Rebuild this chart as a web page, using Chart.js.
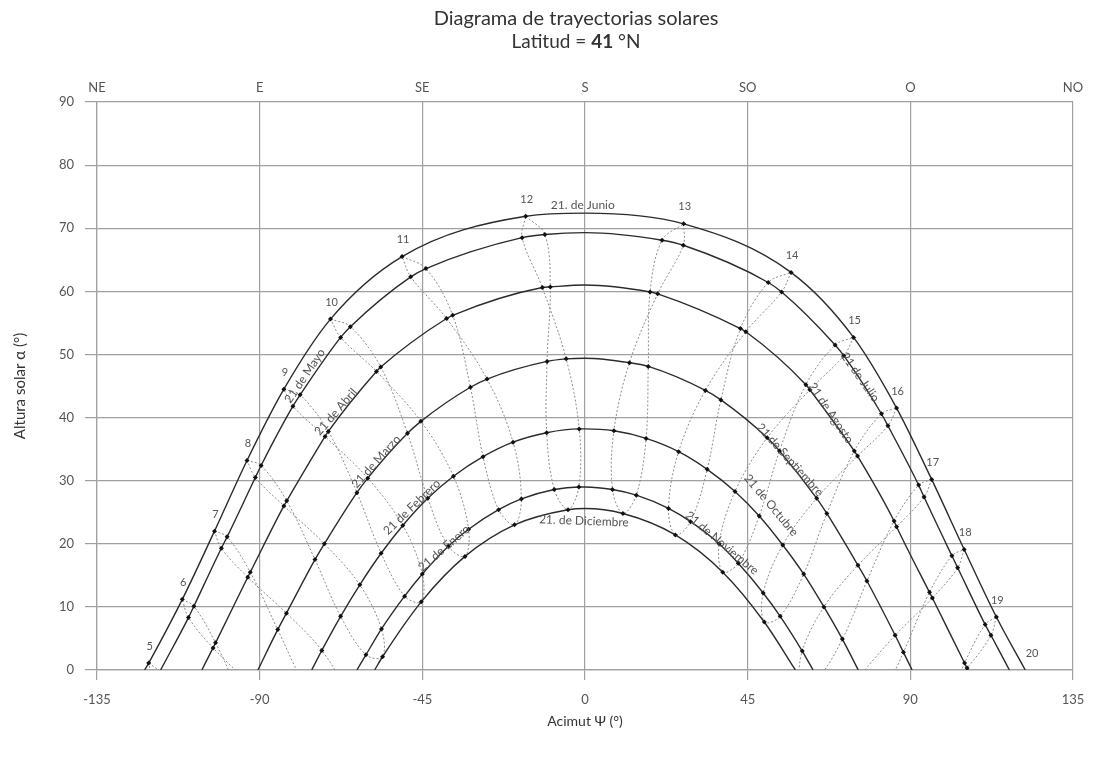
<!DOCTYPE html>
<html>
<head>
<meta charset="utf-8">
<script src="https://cdn.jsdelivr.net/npm/chart.js@4.4.0/dist/chart.umd.min.js"></script>
<style>
  html, body { margin: 0; padding: 0; background: #fff; }
</style>
</head>
<body>
<canvas id="sunChart" width="1097" height="758"></canvas>
<script>
// clock hours, one entry per column of the month tables below
const hours = [5, 6, 7, 8, 9, 10, 11, 12, 13, 14, 15, 16, 17, 18, 19, 20];

// [azimut, altura] of the sun on the 21st of each month, per clock hour
const jun = [[-120.7, 1.1], [-111.4, 11.2], [-102.5, 22.0], [-93.5, 33.2], [-83.3, 44.5], [-70.4, 55.6], [-50.6, 65.5], [-16.4, 71.9], [27.3, 70.7], [57.0, 63.0], [74.3, 52.7], [86.2, 41.5], [95.9, 30.2], [104.9, 19.1], [113.8, 8.4], [123.4, -1.5]];
const may = [[-117.7, -0.3], [-108.2, 10.1], [-99.0, 21.1], [-89.6, 32.4], [-78.8, 43.6], [-64.9, 54.4], [-44.0, 63.6], [-11.1, 69.0], [27.2, 67.3], [54.4, 59.9], [71.6, 49.8], [83.8, 38.7], [93.8, 27.4], [103.1, 16.2], [112.3, 5.5], [122.1, -4.6]];
const jul = [[-119.3, -2.0], [-109.7, 8.3], [-100.6, 19.3], [-91.2, 30.5], [-80.8, 41.8], [-67.6, 52.7], [-48.2, 62.3], [-17.4, 68.5], [21.3, 68.1], [50.7, 61.4], [69.2, 51.5], [82.0, 40.6], [92.3, 29.3], [101.5, 18.1], [110.7, 7.2], [120.4, -3.0]];
const apr = [[-112.1, -6.5], [-102.2, 4.3], [-92.6, 15.5], [-82.5, 26.8], [-71.0, 37.8], [-56.5, 48.0], [-36.6, 56.2], [-9.6, 60.7], [20.1, 59.6], [44.5, 53.6], [62.2, 44.4], [75.4, 33.9], [86.2, 22.7], [96.1, 11.4], [105.7, 0.3], [115.9, -10.3]];
const aug = [[-112.9, -7.3], [-102.9, 3.5], [-93.3, 14.7], [-83.3, 26.0], [-71.9, 37.0], [-57.7, 47.3], [-38.3, 55.7], [-11.8, 60.6], [18.0, 59.9], [43.0, 54.1], [61.1, 45.2], [74.5, 34.7], [85.5, 23.6], [95.3, 12.3], [105.0, 1.1], [115.1, -9.5]];
const mar = [null, [-94.8, -4.9], [-85.0, 6.4], [-74.7, 17.5], [-63.1, 28.1], [-49.1, 37.5], [-31.7, 44.8], [-10.5, 48.9], [12.3, 48.7], [33.3, 44.3], [50.4, 36.8], [64.1, 27.2], [75.5, 16.6], [85.8, 5.5], [95.6, -5.8], null];
const sep = [null, [-92.5, -2.3], [-82.6, 9.0], [-72.1, 20.0], [-60.1, 30.4], [-45.4, 39.4], [-27.1, 46.1], [-5.2, 49.3], [17.5, 48.1], [37.6, 42.8], [53.8, 34.7], [66.9, 24.8], [78.0, 14.1], [88.1, 2.8], [98.0, -8.5], null];
const feb = [null, null, [-77.6, -2.3], [-67.6, 8.5], [-56.4, 18.5], [-43.5, 27.2], [-28.2, 33.8], [-10.6, 37.6], [8.0, 37.9], [25.9, 34.6], [41.5, 28.3], [54.7, 19.8], [66.1, 10.0], [76.3, -0.7], null, null];
const oct = [null, null, [-72.8, 3.1], [-62.3, 13.5], [-50.4, 22.9], [-36.4, 30.7], [-19.9, 36.1], [-1.6, 38.2], [16.9, 36.7], [33.8, 31.8], [48.2, 24.4], [60.5, 15.2], [71.2, 4.9], [81.0, -6.1], null, null];
const jan = [null, null, [-70.3, -7.9], [-60.6, 2.4], [-49.9, 11.7], [-37.8, 19.6], [-23.9, 25.4], [-8.5, 28.6], [7.6, 28.6], [23.1, 25.6], [37.1, 20.0], [49.3, 12.2], [60.1, 3.0], null, null, null];
const nov = [null, null, [-66.3, -3.4], [-56.3, 6.5], [-45.0, 15.2], [-32.2, 22.3], [-17.6, 27.1], [-1.7, 29.0], [14.2, 27.7], [29.2, 23.5], [42.4, 16.9], [54.0, 8.5], [64.3, -1.3], null, null, null];
const dec = [null, null, [-65.6, -7.8], [-56.0, 2.1], [-45.3, 10.8], [-33.2, 18.0], [-19.5, 23.0], [-4.7, 25.4], [10.5, 24.8], [25.0, 21.4], [38.1, 15.5], [49.6, 7.6], [59.8, -1.6], null, null, null];

// one trajectory per pair of months with the same declination
const dayCurves = [[jun], [may, jul], [apr, aug], [mar, sep], [feb, oct], [jan, nov], [dec]];
const horizonAz = [121.8, 117.4, 106.0, 90.5, 75.6, 63.1, 58.2];   // sunrise / sunset azimut
const noonAlt = [72.4, 69.3, 61.0, 49.4, 38.2, 29.0, 25.6];        // altura at solar noon

// hour lines run through the year: June -> December -> June
const hourLoop = [jun, may, apr, mar, feb, jan, dec, nov, oct, sep, aug, jul, jun];

const dirLabels = ['NE', 'E', 'SE', 'S', 'SO', 'O', 'NO'];

// text written along the trajectories
const curveLabels = [
    { text: '21. de Junio', az: -0.6, alt: 73.7, angle: 0 },
    { text: '21 de Mayo', az: -77.5, alt: 46.6, angle: -56 },
    { text: '21 de Abril', az: -68.9, alt: 40.9, angle: -49 },
    { text: '21 de Marzo', az: -57.8, alt: 33.0, angle: -48 },
    { text: '21 de Febrero', az: -47.9, alt: 25.8, angle: -44 },
    { text: '21 de Enero', az: -39.0, alt: 19.3, angle: -41 },
    { text: '21. de Diciembre', az: -0.3, alt: 23.6, angle: 2 },
    { text: '21 de Julio', az: 76.1, alt: 46.4, angle: 55 },
    { text: '21 de Agosto', az: 68.0, alt: 40.7, angle: 56 },
    { text: '21 de Septiembre', az: 56.7, alt: 33.3, angle: 48 },
    { text: '21 de Octubre', az: 51.5, alt: 26.1, angle: 50 },
    { text: '21 de Noviembre', az: 37.9, alt: 20.1, angle: 40 }
];

const FONT = 'Lato, "Open Sans", sans-serif';
const INK = '#2b2b2b';
const GRID = '#a0a0a0';

function toPoint(p) {
    return p ? { x: p[0], y: p[1] } : { x: null, y: null };
}

function curvePoints(months, i) {
    const pts = [];
    months.forEach(m => m.forEach(p => {
        if (p && p[1] >= 0) pts.push(toPoint(p));
    }));
    pts.push({ x: -horizonAz[i], y: 0 }, { x: horizonAz[i], y: 0 }, { x: 0, y: noonAlt[i] });
    return pts.sort((a, b) => a.x - b.x);
}

const datasets = [];

// hour dots
const dots = [];
[jun, may, jul, apr, aug, mar, sep, feb, oct, jan, nov, dec].forEach(m => m.forEach(p => {
    if (p && p[1] >= 0) dots.push(toPoint(p));
}));
datasets.push({
    data: dots,
    showLine: false,
    pointStyle: 'rectRot',
    pointRadius: 2.5,
    pointBackgroundColor: '#111',
    pointBorderColor: '#111',
    pointBorderWidth: 0,
    order: 0
});

// day trajectories
dayCurves.forEach((months, i) => {
    datasets.push({
        data: curvePoints(months, i),
        borderColor: INK,
        borderWidth: 1.4,
        pointRadius: 0,
        cubicInterpolationMode: 'monotone',
        order: 1
    });
});

// hour lines
hours.forEach((h, k) => {
    datasets.push({
        data: hourLoop.map(m => toPoint(m[k])),
        borderColor: '#808080',
        borderWidth: 0.9,
        borderDash: [2, 2],
        pointRadius: 0,
        tension: 0.35,
        spanGaps: false,
        order: 2
    });
});

// title, hour numbers and month names
const textPlugin = {
    id: 'sunText',
    afterDatasetsDraw(chart) {
        const { ctx, scales: { x, y } } = chart;
        ctx.save();

        ctx.fillStyle = '#555';
        ctx.font = '11px ' + FONT;
        ctx.textAlign = 'center';
        ctx.textBaseline = 'middle';
        hours.forEach((h, k) => {
            const p = jun[k];
            const px = x.getPixelForValue(p[0]) + 1;
            const py = y.getPixelForValue(Math.max(p[1], 0)) - 17;
            ctx.fillText(String(h), px, py);
        });

        ctx.font = '12px ' + FONT;
        curveLabels.forEach(l => {
            ctx.save();
            ctx.translate(x.getPixelForValue(l.az), y.getPixelForValue(l.alt));
            ctx.rotate(l.angle * Math.PI / 180);
            ctx.fillText(l.text, 0, 0);
            ctx.restore();
        });

        // chart title
        const cx = 576;
        ctx.fillStyle = '#333';
        ctx.font = '20px ' + FONT;
        ctx.fillText('Diagrama de trayectorias solares', cx, 19);
        const parts = [['Latitud = ', '19px '], ['41', 'bold 19px '], [' °N', '19px ']];
        let total = 0;
        parts.forEach(p => { ctx.font = p[1] + FONT; total += ctx.measureText(p[0]).width; });
        let sx = cx - total / 2;
        ctx.textAlign = 'left';
        parts.forEach(p => {
            ctx.font = p[1] + FONT;
            ctx.fillText(p[0], sx, 42);
            sx += ctx.measureText(p[0]).width;
        });
        ctx.restore();
    }
};

new Chart(document.getElementById('sunChart'), {
    type: 'line',
    data: { datasets },
    options: {
        responsive: false,
        devicePixelRatio: 1,
        animation: false,
        layout: { padding: { top: 62, right: 24, bottom: 28, left: 0 } },
        plugins: { legend: { display: false }, tooltip: { enabled: false } },
        scales: {
            x: {
                type: 'linear',
                position: 'bottom',
                min: -135,
                max: 135,
                afterFit: s => { s.height = 60; },
                ticks: { stepSize: 45, color: '#555', padding: 12, font: { family: FONT, size: 13 } },
                grid: { color: GRID, lineWidth: 1.2, tickLength: 10 },
                border: { color: GRID, width: 1.2 },
                title: { display: true, text: 'Acimut Ψ (°)', color: '#333', padding: 0, font: { family: FONT, size: 14 } }
            },
            x2: {
                type: 'linear',
                position: 'top',
                min: -135,
                max: 135,
                afterFit: s => { s.height = 40; },
                ticks: {
                    stepSize: 45,
                    color: '#555',
                    padding: -2,
                    font: { family: FONT, size: 13 },
                    callback: (v, i) => dirLabels[i]
                },
                grid: { display: false },
                border: { display: false }
            },
            y: {
                min: 0,
                max: 90,
                afterFit: s => { s.width = 97; },
                ticks: { stepSize: 10, color: '#555', padding: 11, font: { family: FONT, size: 13 } },
                grid: { color: GRID, lineWidth: 1.2, tickLength: 12 },
                border: { color: GRID, width: 1.2 },
                title: { display: true, text: 'Altura solar α (°)', color: '#333', padding: { top: 11, bottom: 0 }, font: { family: FONT, size: 15 } }
            }
        }
    },
    plugins: [textPlugin]
});
</script>
</body>
</html>
